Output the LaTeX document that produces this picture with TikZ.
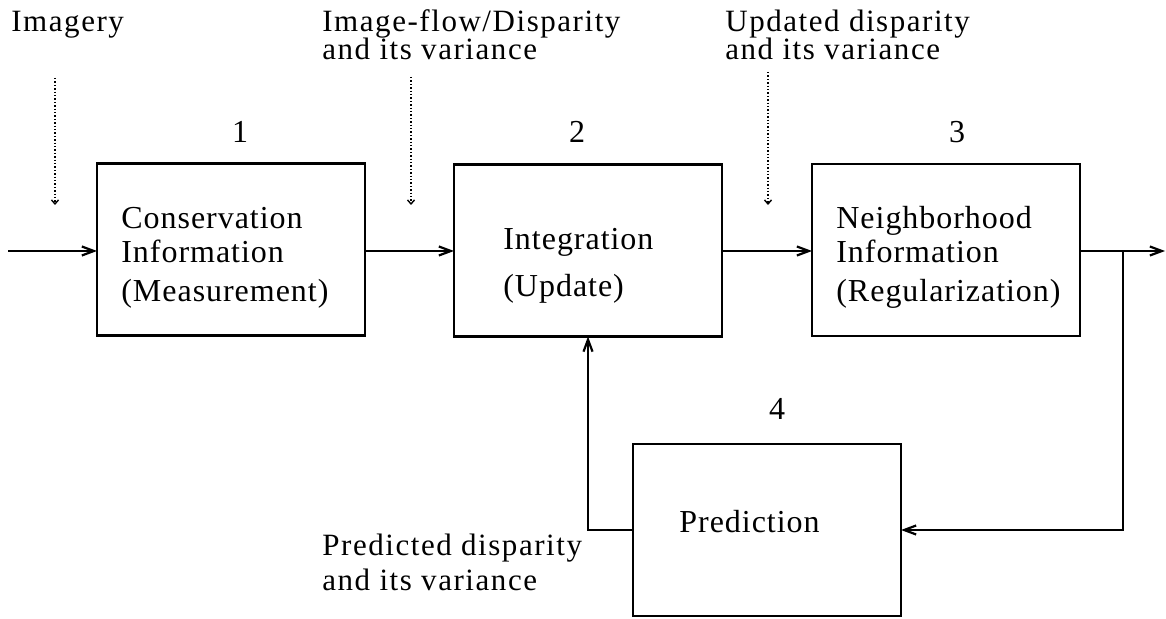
\documentclass[tikz,border=0pt]{standalone}
\usepackage{fontspec}
\setmainfont{Liberation Serif}
\newfontfamily\lblfont{Liberation Serif}[LetterSpace=5]
\newfontfamily\bxfont{Liberation Serif}[LetterSpace=3]
\usetikzlibrary{arrows.meta}
\begin{document}
\begin{tikzpicture}[x=0.5pt,y=-0.5pt,
  blk/.style={draw,line width=1.1pt,minimum width=134pt,minimum height=86pt,inner sep=0pt,outer sep=0pt},
  bt/.style={anchor=base west,inner sep=0pt,font=\bxfont\fontsize{16}{19}\selectfont},
  num/.style={anchor=base,inner sep=0pt,font=\bxfont\fontsize{16}{19}\selectfont},
  lbl/.style={anchor=base west,inner sep=0pt,font=\lblfont\fontsize{15.5}{18}\selectfont},
  conn/.style={line width=1.1pt,-{Straight Barb[length=6pt,width=4.5pt]}},
  dots/.style={line width=0.7pt,densely dotted,-{Straight Barb[length=2pt,width=3.5pt]}}]
\useasboundingbox (0,0) rectangle (1166,619);
% boxes
\node[blk] (b1) at (231,249.5) {};
\node[blk] (b2) at (588,250.5) {};
\node[blk] (b3) at (946,250) {};
\node[blk] (b4) at (767,530) {};
% box texts
\node[bt] (t1a) at (121,229) {Conservation};
\node[bt] (t1b) at (121,263) {Information};
\node[bt] (t1c) at (121,302) {(Measurement)};
\node[bt] (t2a) at (503,250) {Integration};
\node[bt] (t2b) at (503,297) {(Update)};
\node[bt] (t3a) at (836,229) {Neighborhood};
\node[bt] (t3b) at (836,263) {Information};
\node[bt] (t3c) at (836,302) {(Regularization)};
\node[bt] (t4a) at (679,532) {Prediction};
% numbers
\node[num] (n1) at (240,143) {1};
\node[num] (n2) at (577,143) {2};
\node[num] (n3) at (957,143) {3};
\node[num] (n4) at (777,420) {4};
% labels
\node[lbl] (l1) at (11,32) {Imagery};
\node[lbl] (l2a) at (322,32) {Image-flow/Disparity};
\node[lbl] (l2b) at (322,60) {and its variance};
\node[lbl] (l3a) at (725,32) {Updated disparity};
\node[lbl] (l3b) at (725,60) {and its variance};
\node[lbl] (l4a) at (322,555) {Predicted disparity};
\node[lbl] (l4b) at (322,590) {and its variance};
% coordinates
\coordinate (in) at (8,251);
\coordinate (out) at (1165,251);
\coordinate (br) at (1123,251);
\coordinate (d1s) at (55,78);
\coordinate (d1e) at (55,205);
\coordinate (d2s) at (411,77);
\coordinate (d2e) at (411,205);
\coordinate (d3s) at (768,72);
\coordinate (d3e) at (768,205);
% connectors
\draw[conn] (in) -- (b1.west |- in);
\draw[conn] (b1.east |- in) -- (b2.west |- in);
\draw[conn] (b2.east |- in) -- (b3.west |- in);
\draw[conn] (b3.east |- out) -- (out);
\draw[conn] (br) |- (b4.east);
\draw[conn] (b4.west) -| (b2.south);
% dotted inputs
\draw[dots] (d1s) -- (d1e);
\draw[dots] (d2s) -- (d2e);
\draw[dots] (d3s) -- (d3e);
\end{tikzpicture}
\end{document}
